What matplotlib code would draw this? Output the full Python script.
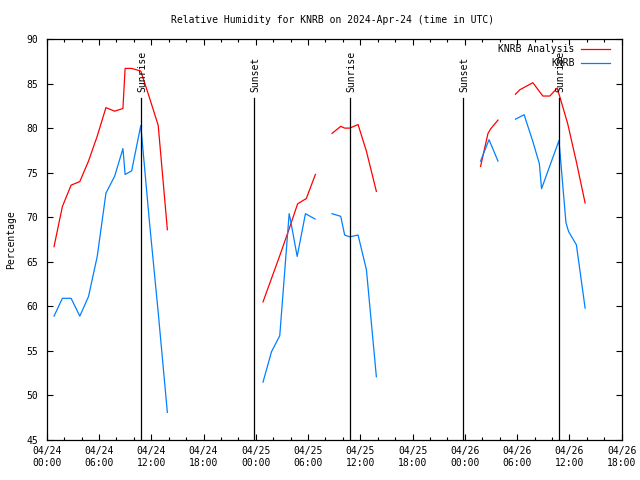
import numpy as np
import matplotlib
matplotlib.use("Agg")
import matplotlib.pyplot as plt
from matplotlib.lines import Line2D
from matplotlib.ticker import MultipleLocator

# hours since 2024-04-24 00:00 UTC; NaN separates data gaps
nan = np.nan
analysis_hours = [0.84, 1.8, 2.8, 3.8, 4.8, 5.8, 6.8, 7.8, 8.75, 9.0, 9.75, 10.8, 11.8, 12.8, 13.85, nan,
                  24.83, 25.83, 26.83, 27.83, 28.8, 29.8, 30.84, nan,
                  32.75, 33.75, 34.2, 34.78, 35.74, 36.7, 37.84, nan,
                  49.8, 50.65, 50.95, 51.8, nan,
                  53.8, 54.3, 55.8, 56.95, 57.75, 58.6, 59.8, 60.8, 61.8]
analysis_rh = [66.7, 71.2, 73.6, 74.0, 76.3, 79.1, 82.3, 81.9, 82.2, 86.7, 86.7, 86.4, 83.4, 80.3, 68.6, nan,
               60.5, 63.2, 65.9, 68.7, 71.5, 72.1, 74.8, nan,
               79.4, 80.2, 80.0, 80.0, 80.4, 77.4, 72.9, nan,
               75.7, 79.4, 79.9, 80.9, nan,
               83.8, 84.3, 85.1, 83.6, 83.6, 84.5, 80.5, 76.2, 71.6]

obs_hours = [0.84, 1.8, 2.8, 3.8, 4.8, 5.8, 6.8, 7.8, 8.75, 9.0, 9.75, 10.8, 11.8, 12.8, 13.85, nan,
             24.83, 25.8, 26.75, 27.83, 28.0, 28.75, 29.7, 30.8, nan,
             32.75, 33.75, 34.2, 34.78, 35.74, 36.7, 37.84, nan,
             49.8, 50.77, 51.8, nan,
             53.8, 54.8, 55.8, 56.55, 56.8, 58.8, 59.6, 59.9, 60.8, 61.8]
obs_rh = [58.9, 60.9, 60.9, 58.9, 61.1, 65.6, 72.7, 74.6, 77.7, 74.8, 75.2, 80.3, 69.4, 59.3, 48.1, nan,
          51.5, 54.9, 56.7, 70.4, 69.6, 65.6, 70.4, 69.8, nan,
          70.4, 70.1, 68.0, 67.8, 68.0, 64.1, 52.1, nan,
          76.3, 78.7, 76.3, nan,
          81.0, 81.5, 78.5, 76.0, 73.2, 78.6, 69.4, 68.4, 66.9, 59.8]

sun_hours = [10.8, 23.84, 34.82, 47.79, 58.8]
sun_labels = ["Sunrise", "Sunset", "Sunrise", "Sunset", "Sunrise"]

xtick_hours = list(range(0, 67, 6))
xtick_labels = ["04/24\n00:00", "04/24\n06:00", "04/24\n12:00", "04/24\n18:00",
                "04/25\n00:00", "04/25\n06:00", "04/25\n12:00", "04/25\n18:00",
                "04/26\n00:00", "04/26\n06:00", "04/26\n12:00", "04/26\n18:00"]

FONT = "DejaVu Sans Mono"
FS = 7

fig = plt.figure(figsize=(6.4, 4.8), dpi=100)
ax = fig.add_axes([46.7/640, 1-440/480, (621.7-46.7)/640, (440-39)/480])

ax.plot(analysis_hours, analysis_rh, color="#ff0000", lw=0.9)
ax.plot(obs_hours, obs_rh, color="#0080ff", lw=0.9)

for h, lab in zip(sun_hours, sun_labels):
    ax.plot([h, h], [45, 83.36], color="black", lw=0.9)
    ax.text(h + 0.15, 84.1, lab, rotation=90, ha="center", va="bottom",
            fontsize=FS, family=FONT)

ax.set_xlim(0, 66)
ax.set_ylim(45, 90)
ax.set_xticks(xtick_hours)
ax.set_xticklabels(xtick_labels, family=FONT, fontsize=FS, linespacing=1.35)
ax.xaxis.set_minor_locator(MultipleLocator(2))
ax.set_yticks(np.arange(45, 91, 5))
ax.set_yticklabels([str(v) for v in range(45, 91, 5)], family=FONT, fontsize=FS)
ax.tick_params(which="both", direction="in", top=True, right=True, width=0.8)
ax.tick_params(which="major", length=4.5)
ax.tick_params(which="minor", length=2.2)
ax.tick_params(axis="x", which="major", pad=4)
ax.tick_params(axis="y", which="major", pad=6)
for s in ax.spines.values():
    s.set_linewidth(0.9)

fig.text(333/640, 1-20/480, "Relative Humidity for KNRB on 2024-Apr-24 (time in UTC)",
         ha="center", va="center", family=FONT, fontsize=FS)
fig.text(11/640, 240/480, "Percentage", rotation=90, ha="center", va="center",
         family=FONT, fontsize=FS)

# legend
fig.text(574.5/640, 1-49/480, "KNRB Analysis", ha="right", va="center", family=FONT, fontsize=FS)
fig.text(574.5/640, 1-63/480, "KNRB", ha="right", va="center", family=FONT, fontsize=FS)
fig.add_artist(Line2D([581/640, 609.5/640], [1-48.5/480]*2, color="#ff0000", lw=0.9,
                      transform=fig.transFigure))
fig.add_artist(Line2D([581/640, 609.5/640], [1-62.5/480]*2, color="#0080ff", lw=0.9,
                      transform=fig.transFigure))

fig.savefig("out.png", dpi=100)
